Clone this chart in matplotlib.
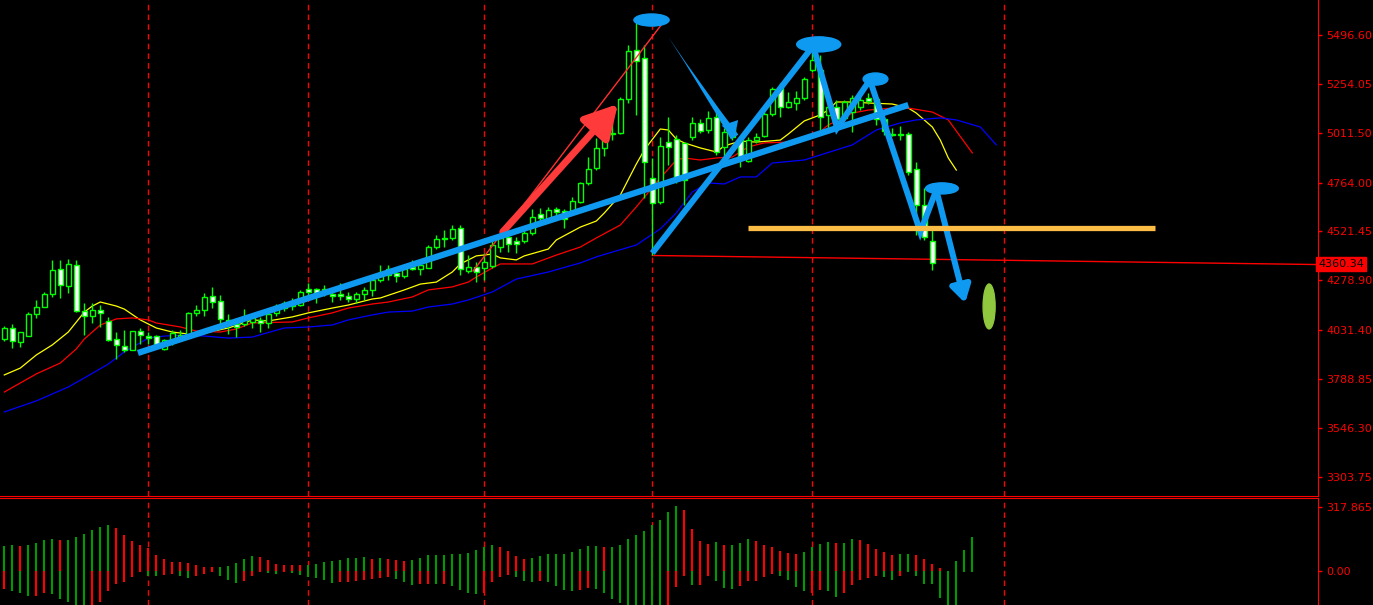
import numpy as np
import matplotlib
matplotlib.use("Agg")
import matplotlib.pyplot as plt
from matplotlib.patches import Ellipse

# daily candles (bar index = position in list)
opens = [3986, 4040, 3974, 4004, 4110, 4145, 4209, 4333, 4249, 4353,
         4125, 4100, 4130, 4075, 3986, 3954, 3931, 4026, 4001, 4001,
         3936, 3972, 3992, 4006, 4115, 4130, 4199, 4175, 4083, 4062,
         4062, 4072, 4080, 4068, 4117, 4141, 4151, 4156, 4234, 4234,
         4216, 4212, 4212, 4201, 4188, 4209, 4229, 4280, 4305, 4314,
         4300, 4346, 4333, 4341, 4446, 4482, 4487, 4537, 4327, 4343,
         4340, 4351, 4446, 4495, 4475, 4475, 4515, 4606, 4585, 4631,
         4621, 4624, 4669, 4763, 4835, 4937, 5004, 5009, 5177, 5422,
         5381, 4788, 4666, 4967, 4979, 4959, 4989, 5058, 5025, 5091,
         4942, 4992, 4975, 4873, 4975, 4997, 5103, 5232, 5141, 5158,
         5182, 5323, 5323, 5100, 5141, 5083, 5116, 5141, 5185, 5177,
         5078, 5005, 5005, 5004, 4830, 4653, 4474]
highs = [4052, 4062, 4022, 4123, 4181, 4222, 4380, 4380, 4383, 4380,
         4165, 4165, 4156, 4098, 4021, 4032, 4027, 4040, 4024, 4007,
         3989, 4032, 4032, 4123, 4156, 4217, 4247, 4206, 4112, 4090,
         4135, 4117, 4098, 4140, 4161, 4176, 4191, 4231, 4264, 4239,
         4256, 4239, 4264, 4219, 4222, 4244, 4305, 4355, 4355, 4346,
         4355, 4380, 4371, 4454, 4502, 4528, 4553, 4553, 4404, 4371,
         4414, 4479, 4504, 4512, 4495, 4528, 4631, 4636, 4641, 4641,
         4631, 4694, 4768, 4892, 4984, 5000, 5066, 5190, 5447, 5586,
         5447, 4885, 4992, 5091, 5000, 4967, 5088, 5078, 5119, 5116,
         5033, 5050, 4992, 4992, 5009, 5124, 5237, 5257, 5215, 5219,
         5290, 5422, 5397, 5159, 5174, 5174, 5199, 5194, 5207, 5190,
         5090, 5036, 5045, 5017, 4868, 4736, 4529]
lows = [3977, 3944, 3949, 4004, 4090, 4145, 4197, 4190, 4217, 4121,
        4007, 4065, 4046, 3977, 3887, 3923, 3931, 3963, 3963, 3948,
        3933, 3958, 3977, 3997, 4102, 4102, 4143, 4057, 4011, 3999,
        4052, 4042, 4024, 4041, 4102, 4126, 4131, 4151, 4197, 4165,
        4201, 4173, 4181, 4173, 4168, 4181, 4201, 4270, 4280, 4272,
        4290, 4330, 4305, 4340, 4433, 4446, 4479, 4305, 4314, 4272,
        4280, 4340, 4421, 4421, 4413, 4464, 4504, 4570, 4573, 4578,
        4537, 4618, 4663, 4752, 4826, 4896, 4975, 5005, 5158, 5100,
        4686, 4404, 4658, 4851, 4760, 4653, 4975, 5010, 5010, 4901,
        4893, 4975, 4843, 4866, 4959, 4990, 5095, 5091, 5134, 5124,
        5174, 5313, 5025, 5025, 5050, 5075, 5017, 5124, 5154, 5050,
        5000, 4995, 4975, 4802, 4504, 4479, 4330]
closes = [4040, 3977, 4022, 4111, 4145, 4212, 4330, 4254, 4358, 4125,
          4102, 4130, 4115, 3981, 3956, 3931, 4027, 4006, 3991, 3954,
          3982, 4017, 4007, 4115, 4130, 4194, 4173, 4085, 4062, 4046,
          4097, 4092, 4067, 4112, 4151, 4166, 4171, 4219, 4222, 4212,
          4236, 4202, 4199, 4188, 4209, 4229, 4280, 4317, 4335, 4300,
          4333, 4335, 4355, 4443, 4482, 4487, 4532, 4333, 4343, 4318,
          4370, 4454, 4487, 4459, 4459, 4512, 4595, 4587, 4628, 4616,
          4583, 4672, 4763, 4830, 4934, 4987, 5009, 5179, 5417, 5368,
          4865, 4664, 4946, 4942, 4793, 4777, 5058, 5022, 5083, 4917,
          5017, 5036, 4893, 4975, 4992, 5103, 5227, 5141, 5166, 5182,
          5277, 5373, 5088, 5138, 5078, 5166, 5182, 5174, 5169, 5078,
          5020, 5000, 5000, 4818, 4653, 4495, 4363]

# moving averages (bar index, price)
ma_fast_idx = [0, 2, 4, 6, 8, 10, 11, 12, 14, 15, 17, 19, 21, 23, 25, 28, 31, 33, 36, 38,
               41, 43, 46, 47, 50, 52, 54, 56, 57, 59, 61, 62, 64, 65, 68, 69, 72, 74, 75, 77,
               79, 80, 82, 83, 84, 85, 87, 89, 90, 92, 94, 97, 98, 100, 102, 103, 104, 106, 108, 111,
               113, 114, 116, 117, 118, 119]
ma_fast = [3809, 3843, 3908, 3958, 4022, 4121, 4151, 4171, 4151, 4136, 4082, 4042, 4022, 4012, 4017, 4042, 4082, 4077, 4097, 4117,
           4141, 4156, 4186, 4191, 4231, 4260, 4270, 4320, 4360, 4400, 4409, 4390, 4380, 4400, 4434, 4479, 4543, 4573, 4613, 4702,
           4856, 4926, 5030, 5025, 4980, 4961, 4936, 4916, 4946, 4970, 4965, 4975, 5005, 5070, 5100, 5124, 5164, 5164, 5159, 5154,
           5134, 5109, 5040, 4975, 4886, 4826]
ma_mid_idx = [0, 2, 4, 7, 9, 10, 12, 14, 16, 18, 19, 22, 24, 27, 29, 31, 36, 38, 41, 43,
              46, 48, 51, 53, 56, 58, 59, 61, 62, 66, 69, 72, 74, 77, 79, 82, 84, 85, 87, 89,
              91, 93, 95, 98, 101, 103, 106, 108, 111, 113, 116, 118, 119, 121]
ma_mid = [3724, 3769, 3814, 3868, 3938, 3987, 4057, 4087, 4092, 4082, 4067, 4047, 4027, 4022, 4037, 4067, 4072, 4092, 4117, 4141,
          4161, 4171, 4196, 4231, 4246, 4270, 4295, 4340, 4360, 4360, 4404, 4444, 4489, 4553, 4643, 4787, 4876, 4886, 4876, 4886,
          4891, 4941, 4961, 4965, 4985, 5050, 5109, 5124, 5134, 5134, 5114, 5075, 5020, 4911]
ma_slow_idx = [0, 4, 8, 10, 13, 15, 18, 20, 23, 25, 28, 31, 35, 38, 41, 43, 46, 48, 51, 53,
               56, 58, 61, 64, 68, 72, 74, 76, 79, 82, 84, 86, 88, 90, 92, 94, 96, 100, 102, 106,
               109, 112, 114, 117, 119, 122, 124]
ma_slow = [3625, 3680, 3749, 3794, 3863, 3923, 3992, 4002, 4007, 4002, 3992, 3997, 4042, 4047, 4057, 4082, 4107, 4121, 4126, 4146,
           4161, 4181, 4221, 4285, 4320, 4365, 4395, 4419, 4454, 4534, 4613, 4717, 4762, 4757, 4792, 4792, 4861, 4876, 4901, 4951,
           5025, 5060, 5075, 5085, 5075, 5040, 4951]

# lower indicator: upper and lower part of each bar, G = green, R = red
osc_top = [124, 129, 124, 129, 139, 154, 159, 154, 154, 168, 183, 203, 218, 228, 213, 178, 149, 129, 113, 80,
           60, 45, 45, 40, 30, 19, 19, 19, 25, 40, 60, 75, 70, 55, 35, 30, 30, 30, 29, 35,
           45, 50, 55, 65, 65, 70, 60, 65, 60, 55, 50, 55, 65, 80, 80, 80, 85, 85, 90, 104,
           119, 129, 119, 99, 75, 60, 65, 75, 85, 85, 85, 94, 109, 124, 124, 119, 119, 129, 159, 178,
           198, 228, 252, 292, 321, 301, 208, 149, 134, 144, 129, 129, 139, 159, 149, 129, 119, 99, 90, 85,
           94, 119, 134, 144, 139, 139, 159, 154, 134, 109, 94, 80, 85, 85, 80, 60, 35, 14, 0, 50,
           104, 168]
osc_bot = [-88, -98, -106, -122, -122, -106, -113, -137, -152, -175, -175, -175, -152, -98, -63, -53, -30, -4, -24, -24,
           -19, -14, -24, -34, -24, -14, -4, -24, -44, -57, -48, -24, -4, -9, -14, -4, -9, -19, -30, -34,
           -44, -58, -53, -53, -48, -44, -39, -34, -29, -39, -53, -68, -63, -63, -63, -63, -73, -93, -108, -113,
           -108, -53, -29, -19, -29, -48, -53, -48, -53, -73, -93, -98, -93, -83, -88, -108, -137, -157, -175, -175,
           -175, -175, -175, -175, -78, -24, -68, -68, -24, -48, -83, -88, -73, -48, -48, -29, -14, -24, -44, -78,
           -98, -108, -93, -98, -127, -108, -68, -44, -34, -24, -29, -44, -24, -4, -24, -63, -63, -131, -175, -175,
           -4, -4]
top_col = list("GGRGGGGRGG" "GGGGRRRRRR" "RRRRRRRGGG" "GGRRRRRRGG" "GGGGGGRGRR" "RGGGGGGGGG"
               "GGRRRRGGGG" "GGGGGRGGGG" "GGGGGRRRRG" "RGGGRRRRRR" "GGGGRGGRRR" "RRGGRRRRGG" "GG")
bot_col = list("RGGGRRGGGG" "GRRRRRRRGG" "RRGGRRRGGG" "RRRGGRGGGG" "GGRRRRRRRG" "GGRRGRGGGG"
               "RRRRGGGRGG" "GGRRGGGGGG" "GGGRRRGRRG" "GGRRRRRGGG" "GRRGGRRRRR" "GGRGGGGGGG" "GG")

price_ticks = [5496.60, 5254.05, 5011.50, 4764.00, 4521.45, 4278.90, 4031.40, 3788.85, 3546.30, 3303.75]
osc_ticks = [317.865, 0.0]
last_price = 4360.34
month_lines = [18, 38, 60, 81, 101, 125]

# hand-drawn objects on the chart (bar index, price)
trend_up = [(16.7, 3918), (113.0, 5149)]
zigzag = [(81.0, 4414), (101.1, 5442), (104.1, 5035), (108.2, 5273), (114.5, 4519), (116.5, 4727)]
zigzag_arrow = [(116.5, 4727), (120.1, 4166)]
tops = [(80.9, 5571, 4.4, 60), (101.8, 5450, 5.5, 75), (108.9, 5278, 3.1, 60), (117.2, 4735, 4.1, 55)]
target = (123.1, 4149, 1.5, 223)
support = (93.0, 143.8, 4538)
red_ray = [(81.0, 4402), (164.2, 4357)]
red_thin = [(58.6, 4325), (82.2, 5551)]
red_arrow = [(62.3, 4519), (76.7, 5154)]
blue_thin = [(83.0, 5487), (91.3, 4990)]

W, H = 1373, 605
fig = plt.figure(figsize=(W / 100, H / 100), dpi=100, facecolor="black")
ax = fig.add_axes([0, 1 - 495.5 / H, 1318 / W, 495.5 / H])
ax2 = fig.add_axes([0, 0, 1318 / W, 107.5 / H])

LIME = "#00ff00"
BLUE = "#0f9af2"
RED = "#ff0000"
DKGREEN = "#009a00"

for a in (ax, ax2):
    a.set_facecolor("black")
    a.set_xlim(-0.5375, 164.21)
    a.set_xticks([])
    for s in ("left", "top", "bottom", "right"):
        a.spines[s].set_visible(False)
    a.spines["right"].set_visible(True)
    a.spines["right"].set_color(RED)
    a.yaxis.tick_right()
    a.tick_params(axis="y", colors=RED, labelcolor=RED, length=3, width=1, labelsize=8, pad=3)
    for m in month_lines:
        a.axvline(m, color=RED, lw=1, ls=(0, (4, 3)), zorder=1)
ax.spines["bottom"].set_visible(True)
ax.spines["bottom"].set_color(RED)
ax2.spines["top"].set_visible(True)
ax2.spines["top"].set_color(RED)

ax.set_ylim(3210.4, 5670.4)
ax.set_yticks(price_ticks)
ax.set_yticklabels([f"{t:.2f}" for t in price_ticks])

x = np.arange(len(opens))
o = np.array(opens)
c = np.array(closes)
ax.vlines(x, lows, highs, color=LIME, lw=1, zorder=3)
body_lo = np.minimum(o, c)
body_h = np.maximum(np.abs(c - o), 2)
face = np.where(c >= o, "black", "white")
ax.bar(x, body_h, bottom=body_lo, width=0.58, color=face, edgecolor=LIME, linewidth=1, zorder=4)

ax.plot(ma_fast_idx, ma_fast, color="#ffff00", lw=0.9, zorder=2)
ax.plot(ma_mid_idx, ma_mid, color=RED, lw=0.9, zorder=2)
ax.plot(ma_slow_idx, ma_slow, color="#0000ff", lw=0.9, zorder=2)

# drawings
ax.plot(*zip(*red_ray), color=RED, lw=1, zorder=2)
ax.plot(*zip(*red_thin), color="#ff3030", lw=1, zorder=5)
ax.annotate("", xy=red_arrow[1], xytext=red_arrow[0],
            arrowprops=dict(arrowstyle="-|>,head_length=0.9,head_width=0.5", color="#ff3a3a",
                            lw=5, mutation_scale=22, shrinkA=0, shrinkB=0), zorder=6)
ax.annotate("", xy=blue_thin[0], xytext=blue_thin[1],
            arrowprops=dict(arrowstyle="wedge,tail_width=0.45,shrink_factor=0.3", color=BLUE,
                            lw=0, mutation_scale=14, shrinkA=0, shrinkB=0), zorder=6)
ax.annotate("", xy=blue_thin[1], xytext=(blue_thin[1][0] - 0.6, blue_thin[1][1] + 70),
            arrowprops=dict(arrowstyle="-|>,head_length=0.6,head_width=0.35", color=BLUE,
                            lw=0, mutation_scale=18, shrinkA=0, shrinkB=0), zorder=6)
ax.plot(*zip(*trend_up), color=BLUE, lw=4.5, solid_capstyle="butt", zorder=6)
ax.plot(*zip(*zigzag), color=BLUE, lw=4.3, solid_capstyle="butt", solid_joinstyle="miter", zorder=6)
ax.annotate("", xy=zigzag_arrow[1], xytext=zigzag_arrow[0],
            arrowprops=dict(arrowstyle="-|>,head_length=0.5,head_width=0.3", color=BLUE,
                            lw=4.3, mutation_scale=20, shrinkA=0, shrinkB=0), zorder=6)
for ex, ey, ew, eh in tops:
    ax.add_patch(Ellipse((ex, ey), ew, eh, color=BLUE, zorder=7))
ax.add_patch(Ellipse(target[:2], target[2], target[3], color="#8fc73e", zorder=7))
ax.plot(support[:2], [support[2], support[2]], color="#fbbd46", lw=3.8, solid_capstyle="butt", zorder=6)

ax.text(1.0, last_price, f"{last_price:.2f}", transform=ax.get_yaxis_transform(),
        ha="left", va="center", fontsize=8, color="black", clip_on=False, zorder=10,
        bbox=dict(boxstyle="square,pad=0.18", facecolor=RED, edgecolor=RED))

# lower panel
ax2.set_ylim(-166.6, 363.2)
ax2.set_yticks(osc_ticks)
ax2.set_yticklabels(["317.865", "0.00"])
xo = np.arange(len(osc_top))
col = {"G": DKGREEN, "R": RED}
ax2.vlines(xo, 0, osc_top, colors=[col[k] for k in top_col], lw=1.5, zorder=3)
ax2.vlines(xo, osc_bot, 0, colors=[col[k] for k in bot_col], lw=1.5, zorder=3)

fig.savefig("out.png", dpi=100, facecolor="black")
